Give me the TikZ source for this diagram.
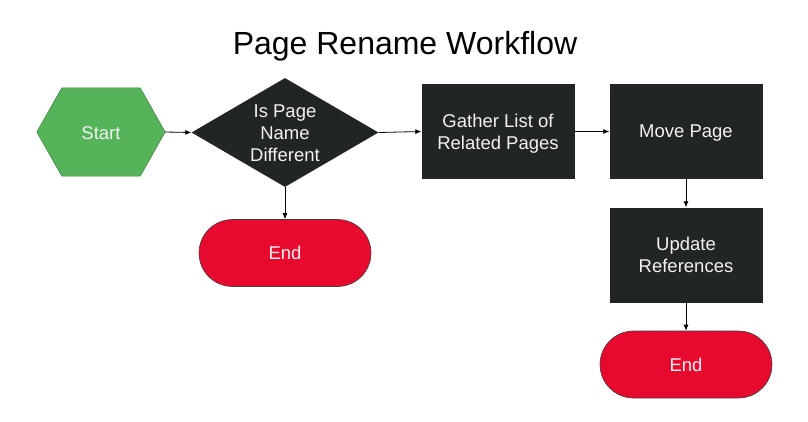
\documentclass[tikz,border=0pt]{standalone}
\usepackage{fontspec}
\setmainfont{Liberation Sans}
\usetikzlibrary{shapes.geometric,shapes.misc,arrows.meta}
\definecolor{boxdark}{HTML}{222525}
\definecolor{startgreen}{HTML}{55B45A}
\definecolor{endred}{HTML}{E8092E}
\definecolor{txtwhite}{HTML}{F2F2F2}
\tikzset{
  x=1pt,y=-1pt,
  lbl/.style={text=txtwhite,font=\fontsize{18.5}{22}\selectfont,align=center,inner sep=0pt},
  procbox/.style={lbl,fill=boxdark,minimum width=153pt,minimum height=95pt,text depth=0pt},
  endbox/.style={lbl,rounded rectangle,fill=endred,draw=black!75,line width=0.6pt,minimum width=172pt,minimum height=67pt},
  conn/.style={draw=black,line width=0.8pt,-{Latex[length=6pt,width=5pt]}}
}
\begin{document}
\begin{tikzpicture}
\useasboundingbox (0,0) rectangle (808,421);
\node[font=\fontsize{32}{38}\selectfont,anchor=base] (title) at (405,54) {Page Rename Workflow};
% start hexagon
\node[lbl,minimum width=128pt,minimum height=88pt] (start) at (101,132) {};
\fill[startgreen,draw=startgreen!70!black,line width=0.5pt]
  (start.west) -- ([xshift=25pt]start.north west) -- ([xshift=-25pt]start.north east)
  -- (start.east) -- ([xshift=-25pt]start.south east) -- ([xshift=25pt]start.south west) -- cycle;
\node[lbl] (starttext) at (101,133) {Start};
% decision
\node[diamond,fill=boxdark,minimum width=187pt,minimum height=109pt,inner sep=0pt] (dec) at (285,132.5) {};
\node[lbl] (dectext) at (285,133.5) {Is Page\\Name\\Different};
% end 1
\node[endbox] (end1) at (285,253) {End};
% process boxes
\node[procbox] (gather) at (498,131.5) {Gather List of\\Related Pages};
\node[procbox] (move) at (686,131.5) {Move Page};
\node[procbox] (update) at (686,255) {Update\\References};
\node[endbox] (end2) at (686,364.5) {End};
% connectors
\draw[conn] (start.east) -- (dec.west);
\draw[conn] (dec.east) -- (gather.west);
\draw[conn] (dec.south) -- (end1.north);
\draw[conn] (gather.east) -- (move.west);
\draw[conn] (move.south) -- (update.north);
\draw[conn] (update.south) -- (end2.north);
\end{tikzpicture}
\end{document}
